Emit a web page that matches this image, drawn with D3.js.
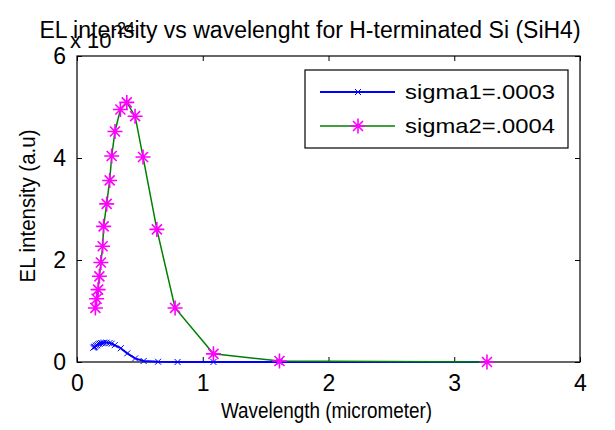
<!DOCTYPE html>
<html><head><meta charset="utf-8">
<script src="https://cdn.jsdelivr.net/npm/d3@7"></script>
<style>body{margin:0;background:#fff}svg{display:block}text{font-family:Arial,"Liberation Sans",sans-serif;fill:#000}</style>
</head><body><svg id="c" width="615" height="430"></svg>
<script>
const titleText = "EL intensity vs wavelenght for H-terminated Si (SiH4)";
const xLabel = "Wavelength (micrometer)";
const yLabel = "EL intensity (a.u)";
const seriesNames = ["sigma1=.0003", "sigma2=.0004"];
const xTicks = [0, 1, 2, 3, 4];
const yTicks = [0, 2, 4, 6];
// wavelength values (micrometer)
const wl1 = [3.26, 1.61, 1.085, 0.80, 0.645, 0.53, 0.462, 0.40, 0.348, 0.300, 0.276, 0.258, 0.235, 0.215, 0.204, 0.192, 0.180, 0.170, 0.160, 0.150, 0.142, 0.136, 0.130];
const sigma1 = [0.0, 0.0, 0.0, 0.0, 0.005, 0.02, 0.07, 0.17, 0.27, 0.33, 0.36, 0.37, 0.38, 0.38, 0.37, 0.37, 0.36, 0.35, 0.33, 0.32, 0.30, 0.29, 0.28];
const wl2 = [3.26, 1.61, 1.085, 0.78, 0.635, 0.525, 0.462, 0.396, 0.345, 0.302, 0.276, 0.260, 0.236, 0.212, 0.204, 0.190, 0.178, 0.168, 0.156, 0.146];
const sigma2 = [0.0, 0.02, 0.16, 1.06, 2.60, 4.02, 4.82, 5.09, 4.95, 4.52, 4.04, 3.56, 3.10, 2.66, 2.27, 1.95, 1.68, 1.42, 1.24, 1.06];

const svg = d3.select("#c");
const L = 77, R = 580, T = 56, B = 362;
const x = d3.scaleLinear().domain([0, 4]).range([L, R]);
const y = d3.scaleLinear().domain([0, 6]).range([B, T]);

svg.append("rect").attr("x", L).attr("y", T).attr("width", R - L).attr("height", B - T).attr("fill", "#fff");

// axes
const tickFs = 23, labFs = 22;
const gx = svg.append("g").attr("transform", `translate(0,${B})`)
  .call(d3.axisBottom(x).tickValues(xTicks).tickSizeInner(-5).tickSizeOuter(0).tickPadding(13).tickFormat(d3.format("d")));
const gy = svg.append("g").attr("transform", `translate(${L},0)`)
  .call(d3.axisLeft(y).tickValues(yTicks).tickSizeInner(-5).tickSizeOuter(0).tickPadding(11).tickFormat(d3.format("d")));
const gxt = svg.append("g").attr("transform", `translate(0,${T})`)
  .call(d3.axisTop(x).tickValues(xTicks).tickSizeInner(-5).tickSizeOuter(0).tickFormat(""));
const gyr = svg.append("g").attr("transform", `translate(${R},0)`)
  .call(d3.axisRight(y).tickValues(yTicks).tickSizeInner(-5).tickSizeOuter(0).tickFormat(""));
[gx, gy, gxt, gyr].forEach(g => {
  g.select(".domain").remove();
  g.selectAll("line").attr("stroke", "#000").attr("stroke-width", 1);
  g.selectAll("text").attr("font-size", tickFs).attr("font-family", "Arial, 'Liberation Sans', sans-serif").attr("fill", "#000");
});
svg.append("rect").attr("x", L).attr("y", T).attr("width", R - L).attr("height", B - T)
  .attr("fill", "none").attr("stroke", "#000").attr("stroke-width", 1.2);

// lines
const d1 = wl1.map((w, i) => [w, sigma1[i]]);
const d2 = wl2.map((w, i) => [w, sigma2[i]]);
const line = d3.line().x(d => x(d[0])).y(d => y(d[1]));
svg.append("path").datum(d1).attr("d", line).attr("fill", "none").attr("stroke", "#0000ff").attr("stroke-width", 2);
svg.append("path").datum(d2).attr("d", line).attr("fill", "none").attr("stroke", "#008000").attr("stroke-width", 1.5);

function xMark(g, cx, cy, r) {
  g.append("path").attr("d", `M${cx - r},${cy - r}L${cx + r},${cy + r}M${cx - r},${cy + r}L${cx + r},${cy - r}`)
    .attr("stroke", "#0000ff").attr("stroke-width", 1).attr("fill", "none");
}
function starMark(g, cx, cy) {
  const a = 7.5, b = 5;
  g.append("path").attr("d", `M${cx - a},${cy}L${cx + a},${cy}M${cx},${cy - a}L${cx},${cy + a}M${cx - b},${cy - b}L${cx + b},${cy + b}M${cx - b},${cy + b}L${cx + b},${cy - b}`)
    .attr("stroke", "#ff00ff").attr("stroke-width", 1.6).attr("fill", "none");
}
const m1 = svg.append("g");
d1.forEach(d => xMark(m1, x(d[0]), y(d[1]), 3));
const m2 = svg.append("g");
d2.forEach(d => starMark(m2, x(d[0]), y(d[1])));

// legend
const lg = svg.append("g");
lg.append("rect").attr("x", 305).attr("y", 70).attr("width", 263).attr("height", 78)
  .attr("fill", "#fff").attr("stroke", "#000").attr("stroke-width", 1.2);
[[92, "#0000ff", 0], [126, "#008000", 1]].forEach(([ly, col, i]) => {
  lg.append("line").attr("x1", 320).attr("x2", 395).attr("y1", ly).attr("y2", ly).attr("stroke", col).attr("stroke-width", i ? 1.5 : 2);
  if (i === 0) xMark(lg, 358, ly, 3); else starMark(lg, 358, ly);
  lg.append("text").attr("x", 405).attr("y", ly + 7).attr("font-size", 21)
    .attr("textLength", 150).attr("lengthAdjust", "spacingAndGlyphs").text(seriesNames[i]);
});

// labels
svg.append("text").attr("x", (L + R) / 2 - 2).attr("y", 418).attr("text-anchor", "middle").attr("font-size", labFs)
  .attr("textLength", 211).attr("lengthAdjust", "spacingAndGlyphs").text(xLabel);
svg.append("text").attr("transform", `translate(35,${(T + B) / 2 - 3}) rotate(-90)`).attr("text-anchor", "middle").attr("font-size", labFs)
  .attr("textLength", 153).attr("lengthAdjust", "spacingAndGlyphs").text(yLabel);
const ex = svg.append("text").attr("x", 70).attr("y", 48).attr("font-size", 22);
ex.append("tspan").text("x 10");
ex.append("tspan").attr("dy", -14).attr("font-size", 16).text("-24");
svg.append("text").attr("x", 310).attr("y", 38).attr("text-anchor", "middle").attr("font-size", 23).text(titleText);
</script></body></html>
